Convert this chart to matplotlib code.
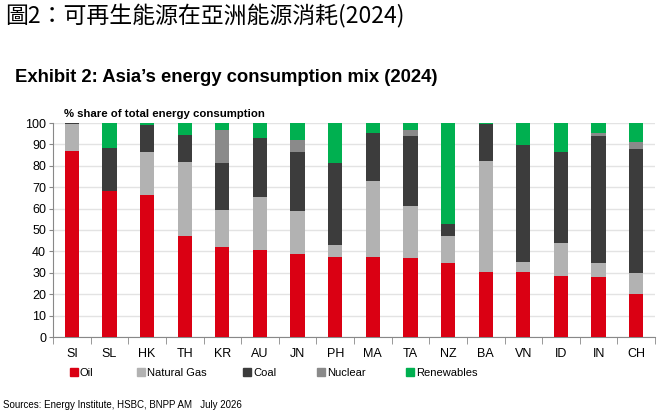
import numpy as np
import matplotlib.pyplot as plt
from matplotlib.patches import Patch

countries = ['SI', 'SL', 'HK', 'TH', 'KR', 'AU', 'JN', 'PH', 'MA', 'TA', 'NZ', 'BA', 'VN', 'ID', 'IN', 'CH']
oil = [86.8, 68.3, 66.3, 47.1, 42.0, 40.6, 38.9, 37.6, 37.6, 36.7, 34.8, 30.5, 30.5, 28.6, 28.0, 20.2]
gas = [12.6, 0.0, 20.0, 34.5, 17.4, 24.6, 20.0, 5.2, 35.3, 24.6, 12.2, 51.9, 4.5, 15.1, 6.5, 9.7]
coal = [0.4, 20.2, 12.8, 12.6, 21.9, 27.6, 27.4, 38.5, 22.6, 32.8, 5.6, 17.1, 54.7, 42.8, 59.6, 58.1]
nuclear = [0.0, 0.0, 0.0, 0.0, 15.4, 0.0, 5.8, 0.0, 0.0, 2.8, 0.0, 0.0, 0.0, 0.0, 1.2, 3.3]
renew = [0.2, 11.5, 0.9, 5.8, 3.3, 7.2, 7.9, 18.7, 4.5, 3.1, 47.4, 0.5, 10.3, 13.5, 4.7, 8.7]

series = [('Oil', oil, '#DA0013'), ('Natural Gas', gas, '#B2B2B2'), ('Coal', coal, '#3C3C3C'),
          ('Nuclear', nuclear, '#8A8A8A'), ('Renewables', renew, '#00B050')]
legend_x = [70, 137, 243, 317, 406]  # left edge of each legend entry, px

plt.rcParams['font.family'] = ['Liberation Sans', 'DejaVu Sans']

fig = plt.figure(figsize=(6.64, 4.18), dpi=100)
ax = fig.add_axes([53/664, 1-337/418, 602/664, 214/418])

x = np.arange(len(countries))
bottom = np.zeros(len(countries))
for name, vals, col in series:
    vals = np.array(vals)
    ax.bar(x, vals, 0.38, bottom=bottom, color=col, label=name, zorder=3)
    bottom += vals

ax.set_xlim(-0.5, len(countries) - 0.5)
ax.set_ylim(0, 100)
ax.set_yticks(range(0, 101, 10))
ax.tick_params(axis='y', labelsize=9, length=3, color='#888888', pad=2)
ax.set_xticks(x)
ax.set_xticklabels(countries, fontsize=9)
ax.tick_params(axis='x', length=0, pad=8)
ax.set_xticks(np.arange(-0.5, len(countries), 1), minor=True)
ax.tick_params(axis='x', which='minor', length=5, color='#888888', direction='out')
ax.grid(axis='y', color='#E3E3E3', linewidth=1, zorder=0)
for s in ['top', 'right']:
    ax.spines[s].set_visible(False)
for s in ['left', 'bottom']:
    ax.spines[s].set_color('#888888')

# one legend per entry, Excel-style uneven spacing
for (name, vals, col), lx in zip(series, legend_x):
    fig.legend(handles=[Patch(color=col, label=name)], loc='center left',
               bbox_to_anchor=(lx/664, 1-373/418), frameon=False, fontsize=8,
               handlelength=0.7, handleheight=0.7, handletextpad=0.2,
               borderpad=0, borderaxespad=0)

fig.text(5/664, 1-16/418, '圖2：可再生能源在亞洲能源消耗(2024)', fontsize=16.5,
         family=['Noto Sans CJK TC', 'DejaVu Sans'], va='center', ha='left')
fig.text(15/664, 1-78/418, 'Exhibit 2: Asia’s energy consumption mix (2024)', fontsize=13.3,
         weight='bold', va='center', ha='left')
fig.text(64/664, 1-114/418, '% share of total energy consumption', fontsize=8.2,
         weight='bold', va='center', ha='left')
fig.text(3/664, 1-405/418, 'Sources: Energy Institute, HSBC, BNPP AM   July 2026', fontsize=7,
         va='center', ha='left')

fig.savefig('out.png', dpi=100)
